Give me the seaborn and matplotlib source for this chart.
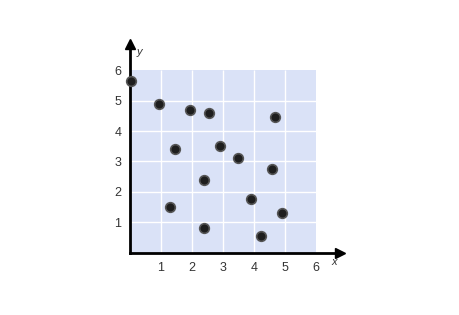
import matplotlib
matplotlib.use("Agg")
import matplotlib.pyplot as plt
import seaborn as sns
import pandas as pd

x_vals = [0.05, 0.95, 1.95, 2.55, 4.7, 1.45, 2.9, 3.5, 4.6, 2.4, 3.9, 1.3, 4.9, 2.4, 4.25]
y_vals = [5.65, 4.9, 4.7, 4.6, 4.45, 3.4, 3.5, 3.1, 2.75, 2.4, 1.75, 1.5, 1.3, 0.8, 0.55]
ticks = [1, 2, 3, 4, 5, 6]
tick_labels = ["1", "2", "3", "4", "5", "6"]

df = pd.DataFrame({"x": x_vals, "y": y_vals})

sns.set_style("white")
plt.rcParams["font.family"] = ["Liberation Sans", "DejaVu Sans"]

fig = plt.figure(figsize=(4.6, 3.15), dpi=100)
W, H = 460, 315
x0px, unitx = 129.7, 31.0
y0px, unity = 315 - 252.7, 30.4
xmax, ymax = 6.8, 6.85
ax = fig.add_axes([x0px / W, y0px / H, xmax * unitx / W, ymax * unity / H])
ax.set_xlim(0, xmax)
ax.set_ylim(0, ymax)

# background panel
ax.add_patch(plt.Rectangle((0, 0), 6, 6, facecolor="#dae2f7", edgecolor="none", zorder=0))
ax.vlines(ticks[:-1], 0, 6, colors="white", linewidth=1, zorder=1)
ax.hlines(ticks[:-1], 0, 6, colors="white", linewidth=1, zorder=1)

sns.scatterplot(data=df, x="x", y="y", ax=ax, s=48, color="#1e1e1e",
                edgecolor="#555555", linewidth=1.2, zorder=5, clip_on=False)

for s in ["top", "right"]:
    ax.spines[s].set_visible(False)
for s in ["left", "bottom"]:
    ax.spines[s].set_linewidth(2)
    ax.spines[s].set_color("black")
ax.plot(1, 0, ">k", transform=ax.get_yaxis_transform(), clip_on=False, markersize=7)
ax.plot(0, 1, "^k", transform=ax.get_xaxis_transform(), clip_on=False, markersize=7)

ax.set_xticks(ticks)
ax.set_xticklabels(tick_labels)
ax.set_yticks(ticks)
ax.set_yticklabels(tick_labels)
ax.tick_params(axis="both", length=0, labelsize=9, colors="#333333")
ax.tick_params(axis="x", pad=7)
ax.tick_params(axis="y", pad=6)
ax.set_xlabel("")
ax.set_ylabel("")
ax.text(6.6, -0.3, "x", style="italic", fontsize=8, color="#333333", ha="center", va="center")
ax.text(0.3, 6.6, "y", style="italic", fontsize=8, color="#333333", ha="center", va="center")

fig.savefig("out.png", dpi=100)
